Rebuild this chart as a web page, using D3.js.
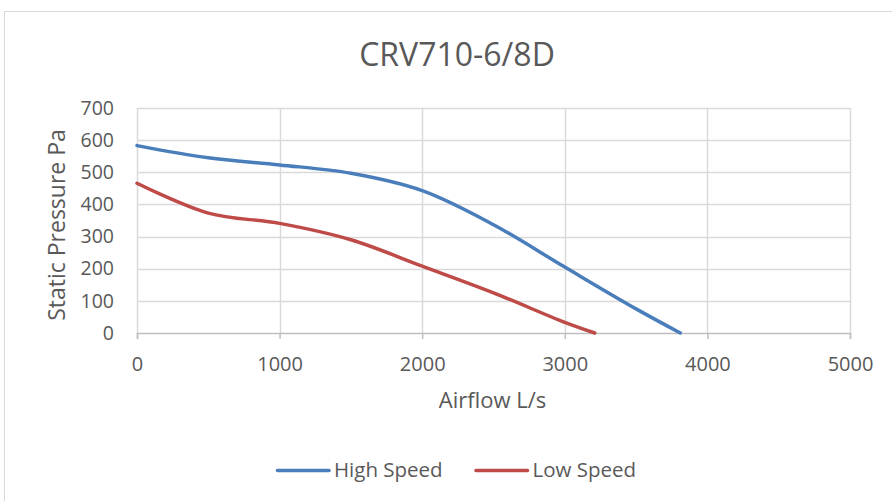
<!DOCTYPE html>
<html>
<head>
<meta charset="utf-8">
<script src="https://cdn.jsdelivr.net/npm/d3@7"></script>
<style>
  html, body { margin: 0; padding: 0; background: #fff; }
  svg text { font-family: "Open Sans", sans-serif; fill: #595959; }
</style>
</head>
<body>
<svg id="chart" width="892" height="501"></svg>
<script>
// Fan curve: static pressure (Pa) against airflow (L/s)
const highFlow = [0, 500, 1000, 1500, 2000, 2500, 3000, 3500, 3810];
const highPressure = [583, 545, 523, 497, 443, 337, 205, 75, 0];
const lowFlow = [0, 500, 1000, 1500, 2000, 2500, 3000, 3210];
const lowPressure = [466, 373, 341, 290, 208, 125, 33, 0];
const xTicks = [0, 1000, 2000, 3000, 4000, 5000];
const yTicks = [0, 100, 200, 300, 400, 500, 600, 700];
const seriesNames = ["High Speed", "Low Speed"];
const seriesColors = ["#4a7ebb", "#be4b48"];

(function () {
const svg = d3.select("#chart");

// chart frame
svg.append("rect")
  .attr("x", 4.5).attr("y", 11.5)
  .attr("width", 920).attr("height", 520)
  .attr("fill", "#fff").attr("stroke", "#d9d9d9").attr("stroke-width", 1);

const plotLeft = 137, plotRight = 850, plotTop = 108, plotBottom = 333;
const x = d3.scaleLinear().domain([0, 5000]).range([plotLeft, plotRight]);
const y = d3.scaleLinear().domain([0, 700]).range([plotBottom, plotTop]);

// gridlines
const g = svg.append("g");
g.selectAll(".hg").data(yTicks.filter(d => d > 0)).join("line")
  .attr("x1", plotLeft).attr("x2", plotRight)
  .attr("y1", d => Math.round(y(d)) + 0.5).attr("y2", d => Math.round(y(d)) + 0.5)
  .attr("stroke", "#d9d9d9").attr("stroke-width", 1.5);
g.selectAll(".vg").data(xTicks).join("line")
  .attr("x1", d => Math.round(x(d)) + 0.5).attr("x2", d => Math.round(x(d)) + 0.5)
  .attr("y1", plotTop).attr("y2", plotBottom)
  .attr("stroke", "#d9d9d9").attr("stroke-width", 1.5);

// x axis with ticks
const xAxis = d3.axisBottom(x).tickValues(xTicks).tickSize(6).tickPadding(10).tickFormat(d3.format("d"));
const xa = svg.append("g").attr("transform", `translate(0,${plotBottom})`).call(xAxis);
xa.select(".domain").attr("stroke", "#bfbfbf").attr("stroke-width", 1.5);
xa.selectAll(".tick line").attr("stroke", "#bfbfbf").attr("stroke-width", 1.5);
xa.selectAll(".tick text").attr("font-size", 20).attr("fill", "#595959")
  .attr("dy", null).attr("y", 37.5)
  .style("font-family", '"Open Sans", sans-serif');

// y axis labels
const yAxis = d3.axisLeft(y).tickValues(yTicks).tickSize(0).tickPadding(23).tickFormat(d3.format("d"));
const ya = svg.append("g").attr("transform", `translate(${plotLeft},0)`).call(yAxis);
ya.select(".domain").remove();
ya.selectAll(".tick text").attr("font-size", 19.5).attr("fill", "#595959")
  .style("font-family", '"Open Sans", sans-serif');

// curves
const line = d3.line().x(d => x(d[0])).y(d => y(d[1])).curve(d3.curveCatmullRom.alpha(0.5));
const series = [
  d3.zip(highFlow, highPressure),
  d3.zip(lowFlow, lowPressure)
];
svg.append("g").selectAll("path").data(series).join("path")
  .attr("d", line)
  .attr("fill", "none")
  .attr("stroke", (d, i) => seriesColors[i])
  .attr("stroke-width", 3.5)
  .attr("stroke-linecap", "round");

// titles
svg.append("text").attr("x", 457).attr("y", 66).attr("text-anchor", "middle")
  .attr("font-size", 32).text("CRV710-6/8D");
svg.append("text").attr("x", 492.5).attr("y", 408).attr("text-anchor", "middle")
  .attr("font-size", 22).text("Airflow L/s");
svg.append("text")
  .attr("transform", "translate(65,225) rotate(-90)")
  .attr("text-anchor", "middle")
  .attr("font-size", 23).text("Static Pressure Pa");

// legend
const legendX = [277.5, 476];
const lg = svg.append("g").selectAll("g").data(seriesNames).join("g")
  .attr("transform", (d, i) => `translate(${legendX[i]},470.5)`);
lg.append("line").attr("x1", 0).attr("x2", 51.5).attr("y1", 0).attr("y2", 0)
  .attr("stroke", (d, i) => seriesColors[i]).attr("stroke-width", 3.5).attr("stroke-linecap", "round");
lg.append("text").attr("x", 56.5).attr("y", 6.5).attr("font-size", 20.5).text(d => d);
})();
</script>
</body>
</html>
